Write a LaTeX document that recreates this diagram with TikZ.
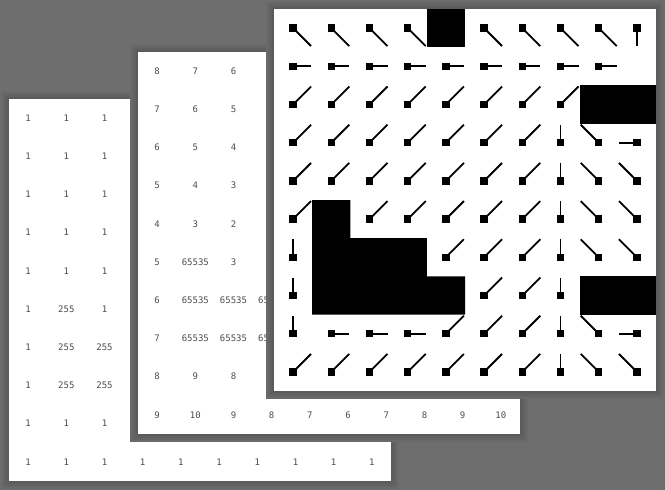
\documentclass[tikz,border=0pt]{standalone}
\usepackage{fontspec}
\newfontfamily\digitfont{DejaVu Sans Mono}
\definecolor{bggrey}{HTML}{6E6E6E}
\definecolor{shA}{HTML}{6A6A6A}
\definecolor{shB}{HTML}{656565}
\definecolor{shC}{HTML}{606060}
\definecolor{shD}{HTML}{5B5B5B}
\definecolor{numc}{HTML}{4D4D4D}
\tikzset{
  sheet/.style={fill=white,draw=none,minimum width=382pt,minimum height=382pt,inner sep=0pt,outer sep=0pt,anchor=north west},
  num/.style={font=\digitfont\fontsize{9}{10}\selectfont,text=numc,inner sep=0pt},
  sq/.style={fill=black,draw=none,minimum size=7.5pt,inner sep=0pt},
  vec/.style={line width=1.8pt,draw=black},
  blk/.style={fill=black,draw=none}
}
\newcommand\sheetshadow[2]{%
  \foreach \e/\cl in {8/shA,6/shB,4/shC,2/shD}{\fill[\cl] ({#1-\e},{#2-\e}) rectangle ({#1+382+\e},{#2+382+\e});}}
\newcommand\mksq[2]{\node[sq] (T-#1-#2) at ({293.1+38.2*#2},{28.1+38.2*#1}) {};}
\newcommand\cellR[2]{\mksq{#1}{#2}\draw[vec] (T-#1-#2.center) -- ++(18,0);}
\newcommand\cellL[2]{\mksq{#1}{#2}\draw[vec] (T-#1-#2.center) -- ++(-18,0);}
\newcommand\cellU[2]{\mksq{#1}{#2}\draw[vec] (T-#1-#2.center) -- ++(0,-18);}
\newcommand\cellD[2]{\mksq{#1}{#2}\draw[vec] (T-#1-#2.center) -- ++(0,18);}
\newcommand\cellUR[2]{\mksq{#1}{#2}\draw[vec] (T-#1-#2.center) -- ++(18,-18);}
\newcommand\cellUL[2]{\mksq{#1}{#2}\draw[vec] (T-#1-#2.center) -- ++(-18,-18);}
\newcommand\cellDR[2]{\mksq{#1}{#2}\draw[vec] (T-#1-#2.center) -- ++(18,18);}
\newcommand\cellX[2]{}
\newcommand\cellG[2]{}
\begin{document}
\begin{tikzpicture}[x=1pt,y=-1pt]
\fill[bggrey] (0,0) rectangle (665,490);
\useasboundingbox (0,0) rectangle (665,490);

% ---------- left sheet (cost map) ----------
\sheetshadow{9}{99}
\node[sheet] (sheetL) at (9,99) {};
\foreach \r/\a/\b/\d in {0/1/1/1,1/1/1/1,2/1/1/1,3/1/1/1,4/1/1/1,5/1/255/1,6/1/255/255,7/1/255/255,8/1/1/1}{
  \node[num] (L-\r-0) at (28.1,{118.1+38.2*\r}) {\a};
  \node[num] (L-\r-1) at (66.3,{118.1+38.2*\r}) {\b};
  \node[num] (L-\r-2) at (104.5,{118.1+38.2*\r}) {\d};
}
\foreach \v [count=\k from 0] in {1,1,1,1,1,1,1,1,1,1}
  \node[num] (L-9-\k) at ({28.1+38.2*\k},461.9) {\v};

% ---------- middle sheet (distance field) ----------
\sheetshadow{138}{52}
\node[sheet] (sheetM) at (138,52) {};
\foreach \r/\a/\b/\d in {0/8/7/6,1/7/6/5,2/6/5/4,3/5/4/3,4/4/3/2,5/5/65535/3,6/6/65535/65535,7/7/65535/65535,8/8/9/8}{
  \node[num] (M-\r-0) at (157.1,{71.1+38.2*\r}) {\a};
  \node[num] (M-\r-1) at (195.3,{71.1+38.2*\r}) {\b};
  \node[num] (M-\r-2) at (233.5,{71.1+38.2*\r}) {\d};
}
\node[num] (M-6-3) at (271.7,{71.1+38.2*6}) {65535};
\node[num] (M-7-3) at (271.7,{71.1+38.2*7}) {65535};
\foreach \v [count=\k from 0] in {9,10,9,8,7,6,7,8,9,10}
  \node[num] (M-9-\k) at ({157.1+38.2*\k},414.9) {\v};

% ---------- top sheet (flow field) ----------
\sheetshadow{274}{9}
\node[sheet] (sheetT) at (274,9) {};
\foreach \i in {0,...,10}{
  \foreach \j in {0,...,10}{
    \coordinate (g-\i-\j) at ({274+38.2*\i},{9+38.2*\j});
  }
}
\fill[blk] (g-4-0) rectangle (g-5-1);
\fill[blk] (g-8-2) rectangle (g-10-3);
\fill[blk] (g-8-7) rectangle (g-10-8);
\fill[blk] (g-1-5) -- (g-2-5) -- (g-2-6) -- (g-4-6) -- (g-4-7) -- (g-5-7) -- (g-5-8) -- (g-1-8) -- cycle;

\foreach \r/\rowlist in {
  0/{DR,DR,DR,DR,X,DR,DR,DR,DR,D},
  1/{R,R,R,R,R,R,R,R,R,G},
  2/{UR,UR,UR,UR,UR,UR,UR,UR,X,X},
  3/{UR,UR,UR,UR,UR,UR,UR,U,UL,L},
  4/{UR,UR,UR,UR,UR,UR,UR,U,UL,UL},
  5/{UR,X,UR,UR,UR,UR,UR,U,UL,UL},
  6/{U,X,X,X,UR,UR,UR,U,UL,UL},
  7/{U,X,X,X,X,UR,UR,U,X,X},
  8/{U,R,R,R,UR,UR,UR,U,UL,L},
  9/{UR,UR,UR,UR,UR,UR,UR,U,UL,UL}}{
  \foreach \code [count=\cc from 0] in \rowlist {
    \csname cell\code\endcsname{\r}{\cc}
  }
}
\end{tikzpicture}
\end{document}
